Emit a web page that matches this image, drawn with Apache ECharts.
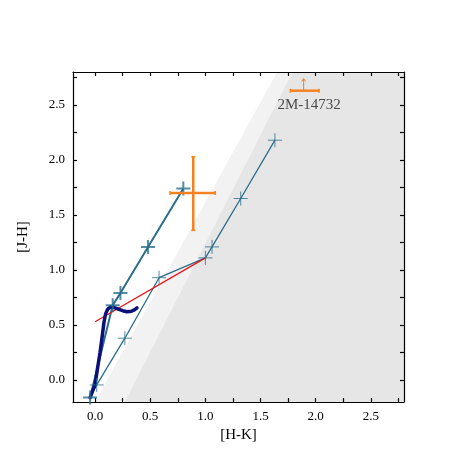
<!DOCTYPE html><html><head><meta charset="utf-8"><script src="https://cdn.jsdelivr.net/npm/echarts@6/dist/echarts.min.js"></script></head><body style="margin:0"><div id="c" style="width:475px;height:475px"></div><script>
const tickLabels=[0.0,0.5,1.0,1.5,2.0,2.5];
const tickMarks=[0.0,0.25,0.5,0.75,1.0,1.25,1.5,1.75,2.0,2.25,2.5,2.75];
const lowerLine=[[-0.045,-0.16],[0.015,-0.045],[0.27,0.38],[0.58,0.93],[1.0,1.11],[1.06,1.21],[1.32,1.65],[1.63,2.18]];
const lowerMarks=[[0.015,-0.045],[0.27,0.38],[0.58,0.93],[1.0,1.11],[1.06,1.21],[1.32,1.65],[1.63,2.18]];
const upperLine=[[-0.045,-0.16],[0.16,0.68],[0.23,0.79],[0.48,1.21],[0.8,1.74]];
const upperMarks=[[-0.045,-0.16],[0.16,0.68],[0.23,0.79],[0.48,1.21],[0.8,1.74]];
const redLine=[[0.0,0.53],[1.0,1.11]];
const track=[[-0.045,-0.16],[0.0,-0.04],[0.02,0.09],[0.045,0.25],[0.065,0.40],[0.08,0.52],[0.095,0.60],[0.115,0.645],[0.14,0.665],[0.17,0.66],[0.21,0.645],[0.25,0.63],[0.29,0.62],[0.33,0.625],[0.36,0.64],[0.38,0.655]];
const lightZone=[[0.0,-0.2],[1.65,2.8],[2.8,2.8],[2.8,-0.2]];
const darkZone=[[0.27,-0.2],[1.79,2.8],[2.8,2.8],[2.8,-0.2]];
const obj1={x:0.89,y:1.70,x0:0.68,x1:1.09,y0:1.36,y1:2.03};
const obj2={x:1.89,y:2.63,x0:1.77,x1:2.03,yArrow:2.74,label:'2M-14732'};
const plus='path://M0,-1L0,1M-1,0L1,0';
const teal='#2b6e8c';
const font='Liberation Serif';
const ax=(name,gap,rot)=>({type:'value',min:-0.2,max:2.8,name:name,nameLocation:'middle',nameGap:gap,nameRotate:rot,
 nameTextStyle:{fontFamily:font,fontSize:15,color:'#000'},
 axisLine:{onZero:false,lineStyle:{color:'#000',width:1.2}},axisTick:{inside:true,length:4,customValues:tickMarks,lineStyle:{color:'#000',width:1.2}},
 splitLine:{show:false},
 axisLabel:{fontFamily:font,fontSize:13,color:'#000',customValues:tickLabels,formatter:v=>v.toFixed(1)}});
const xa=ax('[H-K]',22,0), ya=ax('[J-H]',42,90);
const xa2=Object.assign({},xa,{position:'top',name:'',axisLabel:{show:false}});
const ya2=Object.assign({},ya,{position:'right',name:'',axisLabel:{show:false}});
const poly=(d,c)=>({type:'custom',renderItem:(p,api)=>({type:'polygon',shape:{points:d.map(q=>api.coord(q))},style:{fill:c}}),data:[0],silent:true,z:0});
const seg=(d,c,w)=>({type:'line',data:d,showSymbol:false,lineStyle:{color:c,width:w},silent:true});
const err=(o)=>({type:'custom',renderItem:(p,api)=>{const a=api.coord([o.x0,o.y]),b=api.coord([o.x1,o.y]),ch=[
 {type:'line',shape:{x1:a[0],y1:a[1],x2:b[0],y2:b[1]},style:{stroke:'#f58220',lineWidth:2.5}},
 {type:'line',shape:{x1:a[0],y1:a[1]-2,x2:a[0],y2:a[1]+2},style:{stroke:'#f58220',lineWidth:1.5}},
 {type:'line',shape:{x1:b[0],y1:b[1]-2,x2:b[0],y2:b[1]+2},style:{stroke:'#f58220',lineWidth:1.5}}];
 if(o.y0!==undefined){const c=api.coord([o.x,o.y0]),d=api.coord([o.x,o.y1]);ch.push({type:'line',shape:{x1:c[0],y1:c[1],x2:d[0],y2:d[1]},style:{stroke:'#f58220',lineWidth:2.5}},
 {type:'line',shape:{x1:c[0]-2,y1:c[1],x2:c[0]+2,y2:c[1]},style:{stroke:'#f58220',lineWidth:1.5}},{type:'line',shape:{x1:d[0]-2,y1:d[1],x2:d[0]+2,y2:d[1]},style:{stroke:'#f58220',lineWidth:1.5}});}
 if(o.yArrow!==undefined){const c=api.coord([o.x,o.y]),d=api.coord([o.x,o.yArrow]);ch.push({type:'line',shape:{x1:c[0],y1:c[1],x2:d[0],y2:d[1]},style:{stroke:'#f58220',lineWidth:1}},
 {type:'polyline',shape:{points:[[d[0]-2,d[1]+3],[d[0],d[1]],[d[0]+2,d[1]+3]]},style:{stroke:'#f58220',fill:null,lineWidth:1}});}
 return {type:'group',children:ch};},data:[0],z:5,silent:true});
const chart=echarts.init(document.getElementById('c'));
chart.setOption({animation:false,grid:{left:73,right:71,top:72,bottom:73},
 xAxis:[xa,xa2],yAxis:[ya,ya2],
 series:[poly(lightZone,'#f2f2f2'),poly(darkZone,'#e6e6e6'),
 seg(lowerLine,teal,1.3),seg(upperLine,teal,2),seg(redLine,'#e8141b',1.3),
 {type:'line',data:track,showSymbol:false,smooth:false,lineStyle:{color:'#0b0f7a',width:3.5,join:'round',cap:'round'},silent:true},
 {type:'scatter',data:lowerMarks,symbol:plus,symbolSize:14,itemStyle:{color:'none',borderColor:teal,borderWidth:1},silent:true,z:4},
 {type:'scatter',data:upperMarks,symbol:plus,symbolSize:14,itemStyle:{color:'none',borderColor:teal,borderWidth:2},silent:true,z:4},
 err(obj1),err(obj2),
 {type:'scatter',data:[[1.94,2.5]],symbolSize:0,label:{show:true,formatter:obj2.label,fontFamily:font,fontSize:15,color:'#222'},silent:true}
 ]});
</script></body></html>
